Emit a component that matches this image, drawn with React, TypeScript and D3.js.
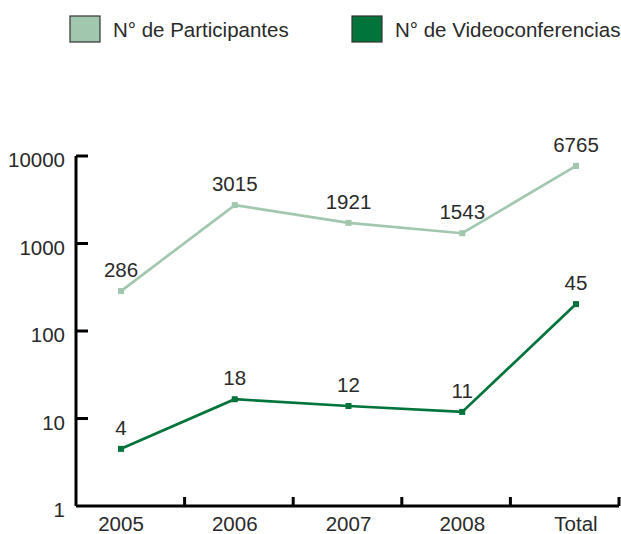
import React from 'react'
import * as d3 from 'd3'

const categories = ['2005', '2006', '2007', '2008', 'Total']
// plotted positions and the printed labels
const participantes = [286, 2750, 1720, 1310, 7700]
const participantesLabels = ['286', '3015', '1921', '1543', '6765']
const videoconf = [4.5, 16.6, 13.9, 11.9, 203]
const videoconfLabels = ['4', '18', '12', '11', '45']
const yTicks = [1, 10, 100, 1000, 10000]

const lightGreen = '#a1c7af'
const darkGreen = '#00743a'
const font = '"Liberation Sans", Arial, Helvetica, sans-serif'
const textColor = '#2a2a2a'

const App = () => {
  const width = 621
  const height = 534

  const x = d3.scalePoint().domain(categories).range([121, 576])
  const xBand = d3.scaleBand().domain(categories).range([76, 619])
  const y = d3.scaleLog().domain([1, 10000]).range([506, 156])

  const line = d3.line<number>()
    .x((d, i) => x(categories[i]) as number)
    .y(d => y(d))

  const series = [
    { values: participantes, labels: participantesLabels, color: lightGreen },
    { values: videoconf, labels: videoconfLabels, color: darkGreen }
  ]

  return (
    <svg width={width} height={height} style={{ position: 'absolute', left: 0, top: 0 }} fontFamily={font}>
      {/* legend */}
      <rect x={70} y={16} width={30} height={26} fill={lightGreen} stroke='#333' strokeWidth={1.2} />
      <text x={113} y={37} fontSize={20.5} fill={textColor}>N° de Participantes</text>
      <rect x={352} y={16} width={30} height={26} fill={darkGreen} stroke='#333' strokeWidth={1.2} />
      <text x={395} y={37} fontSize={20.5} fill={textColor}>N° de Videoconferencias</text>

      {/* axes */}
      <line x1={76} x2={76} y1={y(10000)} y2={y(1)} stroke='#000' strokeWidth={3} />
      <line x1={76} x2={619} y1={y(1)} y2={y(1)} stroke='#000' strokeWidth={3} />
      {yTicks.map(t => (
        <g key={t}>
          {t > 1 && <line x1={76} x2={88} y1={y(t)} y2={y(t)} stroke='#000' strokeWidth={3} />}
          <text x={65} y={y(t) + 11} fontSize={20.5} textAnchor='end' fill={textColor}>{t}</text>
        </g>
      ))}
      {categories.map(c => (
        <g key={c}>
          <line
            x1={(xBand(c) as number) + xBand.bandwidth()}
            x2={(xBand(c) as number) + xBand.bandwidth()}
            y1={y(1)} y2={y(1) - 9}
            stroke='#000' strokeWidth={3}
          />
          <text x={x(c)} y={531} fontSize={20.5} textAnchor='middle' fill={textColor}>{c}</text>
        </g>
      ))}

      {/* series */}
      {series.map((s, si) => (
        <g key={si}>
          <path d={line(s.values) as string} fill='none' stroke={s.color} strokeWidth={2.7} />
          {s.values.map((v, i) => (
            <rect key={i} x={(x(categories[i]) as number) - 3} y={y(v) - 3} width={6} height={6} fill={s.color} />
          ))}
          {s.values.map((v, i) => (
            <text key={'l' + i} x={x(categories[i])} y={y(v) - 14} fontSize={20.5} textAnchor='middle' fill={textColor}>
              {s.labels[i]}
            </text>
          ))}
        </g>
      ))}
    </svg>
  )
}

export default App
